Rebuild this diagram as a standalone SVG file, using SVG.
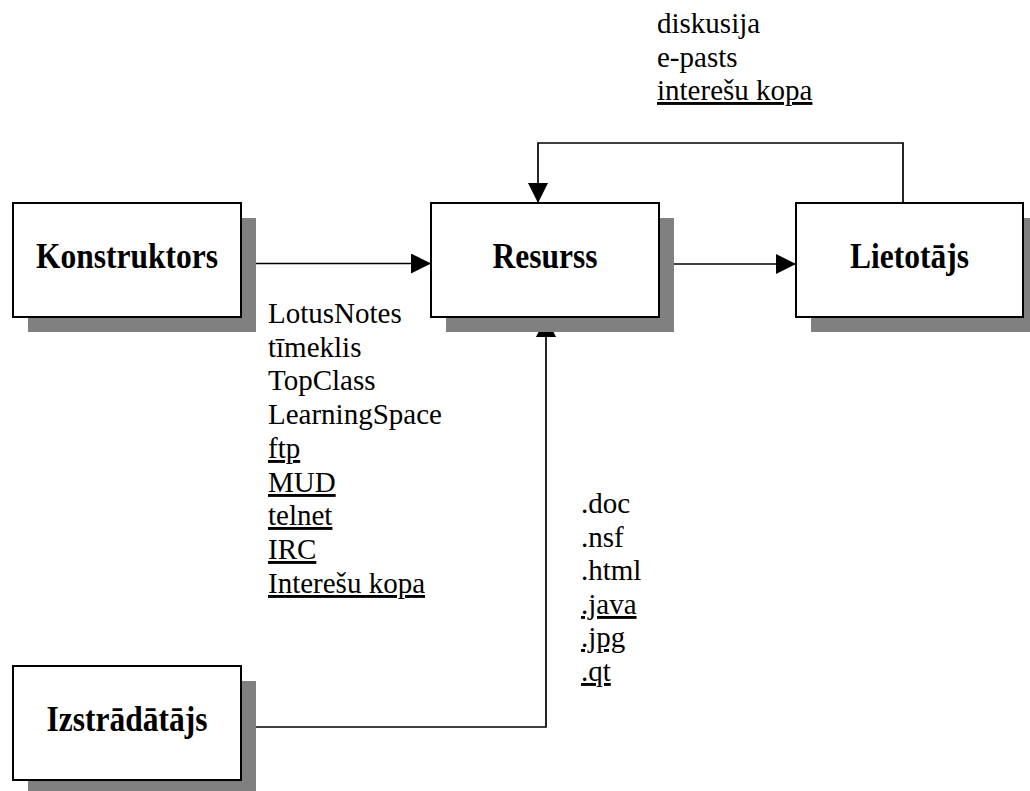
<svg xmlns="http://www.w3.org/2000/svg" width="1030" height="791" viewBox="0 0 1030 791">
<style>
.box{fill:#fff;stroke:#000;stroke-width:2}
.shadow{fill:#808080;stroke:none}
.lbl{font-family:"Liberation Serif","Times New Roman",serif;font-weight:bold;font-size:31.5px;fill:#000;text-anchor:middle}
.t{font-family:"Liberation Serif","Times New Roman",serif;font-size:29px;fill:#000}
.u{text-decoration:underline}
.conn{fill:none;stroke:#000;stroke-width:1.7}
</style>
<defs>
<marker id="arr" viewBox="0 0 20 20" refX="20" refY="10" markerWidth="20" markerHeight="20" markerUnits="userSpaceOnUse" orient="auto">
<path d="M0,0 L20,10 L0,20 Z" fill="#000"/>
</marker>
</defs>
<rect width="1030" height="791" fill="#fff"/>
<g id="connectors">
<path class="conn" d="M241,263.5 H431" marker-end="url(#arr)"/>
<path class="conn" d="M659,264 H796" marker-end="url(#arr)"/>
<path class="conn" d="M903,203 V143 H538 V203" marker-end="url(#arr)"/>
<path class="conn" d="M241,727 H546 V317" marker-end="url(#arr)"/>
</g>
<g id="konstruktors">
<rect class="shadow" x="28" y="218" width="228" height="114"/>
<rect class="box" x="13" y="203" width="228" height="114"/>
<text class="lbl" transform="translate(127,268) scale(1,1.12)">Konstruktors</text>
</g>
<g id="resurss">
<rect class="shadow" x="446" y="218" width="228" height="114"/>
<rect class="box" x="431" y="203" width="228" height="114"/>
<text class="lbl" transform="translate(545,268) scale(1,1.12)">Resurss</text>
</g>
<g id="lietotajs">
<rect class="shadow" x="811" y="218" width="228" height="114"/>
<rect class="box" x="796" y="203" width="227" height="114"/>
<text class="lbl" transform="translate(909.5,268) scale(1,1.12)">Lietotājs</text>
</g>
<g id="izstradatajs">
<rect class="shadow" x="28" y="681" width="228" height="114"/>
<rect class="box" x="13" y="666" width="228" height="114"/>
<text class="lbl" transform="translate(127,731) scale(1,1.12)">Izstrādātājs</text>
</g>
<g id="label-top">
<text class="t" x="657" y="33">diskusija</text>
<text class="t" x="657" y="67">e-pasts</text>
<text class="t u" x="657" y="100">interešu kopa</text>
</g>
<g id="label-left">
<text class="t" x="268" y="323">LotusNotes</text>
<text class="t" x="268" y="357">tīmeklis</text>
<text class="t" x="268" y="390">TopClass</text>
<text class="t" x="268" y="424">LearningSpace</text>
<text class="t u" x="268" y="458">ftp</text>
<text class="t u" x="268" y="492">MUD</text>
<text class="t u" x="268" y="525">telnet</text>
<text class="t u" x="268" y="559">IRC</text>
<text class="t u" x="268" y="593">Interešu kopa</text>
</g>
<g id="label-files">
<text class="t" x="581" y="513">.doc</text>
<text class="t" x="581" y="547">.nsf</text>
<text class="t" x="581" y="580">.html</text>
<text class="t u" x="581" y="614">.java</text>
<text class="t u" x="581" y="647">.jpg</text>
<text class="t u" x="581" y="681">.qt</text>
</g>
</svg>
